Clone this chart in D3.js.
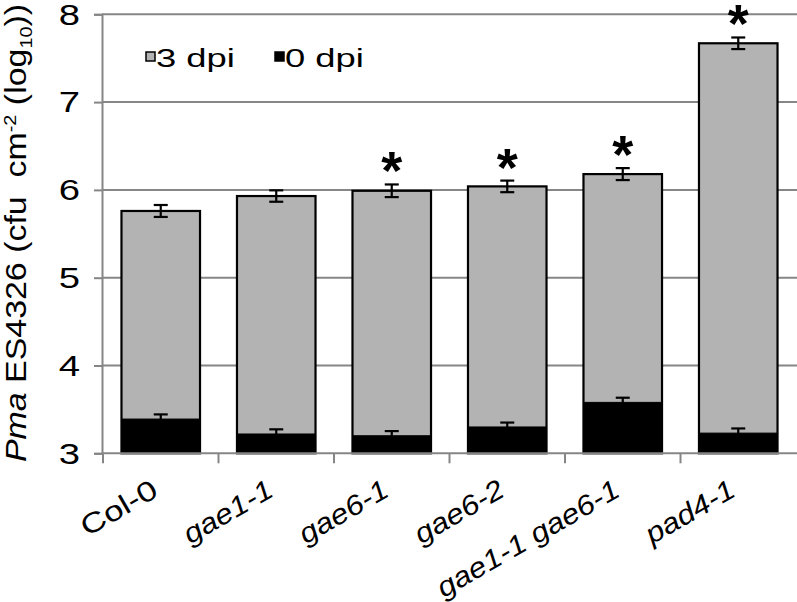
<!DOCTYPE html>
<html><head><meta charset="utf-8">
<script src="https://cdn.jsdelivr.net/npm/d3@7"></script>
<style>body{margin:0;background:#fff;} svg{display:block;font-family:Arial,"Liberation Sans",sans-serif;}</style>
</head><body>
<svg id="chart" width="797" height="602"></svg>
<script>
const categories = ["Col-0","gae1-1","gae6-1","gae6-2","gae1-1 gae6-1","pad4-1"];
const italicLabel = [false,true,true,true,true,true];
const dpi3 = [5.76,5.93,5.99,6.04,6.18,7.67];
const dpi3Err = [0.068,0.065,0.072,0.066,0.068,0.066];
const dpi0 = [3.39,3.22,3.20,3.30,3.58,3.23];
const dpi0Err = [0.053,0.053,0.053,0.05,0.053,0.053];
const significant = [false,false,true,true,true,true];
const yTicks = [3,4,5,6,7,8];
const seriesNames = ["3 dpi","0 dpi"];

const svg = d3.select("#chart");
const grid = "#868686";
const FONT = "Arial, 'Liberation Sans', sans-serif";
const y = d3.scaleLinear().domain([3,8]).range([453.3,14.3]);
const x = d3.scaleBand().domain(categories).range([103,796]).paddingInner(0.32).paddingOuter(0.16);
const step = x.step(), bw = x.bandwidth();

// gridlines
svg.append("g").selectAll("line").data(yTicks.filter(t=>t>3)).join("line")
  .attr("x1",102).attr("x2",797).attr("y1",d=>y(d)).attr("y2",d=>y(d))
  .attr("stroke",grid).attr("stroke-width",2);

// y axis
const yAxis = svg.append("g").attr("transform","translate(102,0)")
  .call(d3.axisLeft(y).tickValues(yTicks).tickSize(8).tickPadding(14).tickFormat(d3.format("d")));
yAxis.select(".domain").attr("stroke",grid).attr("stroke-width",2);
yAxis.selectAll(".tick line").attr("stroke",grid).attr("stroke-width",2);
yAxis.selectAll(".tick text").attr("font-size",29).attr("fill","#000").attr("font-family",FONT)
  .attr("x",0).attr("dy","0.34em").attr("transform","translate(-22,0) scale(1.32,1)");

// bars 3 dpi
const gb = svg.append("g");
categories.forEach((c,i)=>{
  gb.append("rect").attr("x",x(c)).attr("width",bw).attr("y",y(dpi3[i])).attr("height",y(3)-y(dpi3[i]))
    .attr("fill","#b3b3b3").attr("stroke","#000").attr("stroke-width",2.2);
});
// error bars 3 dpi
categories.forEach((c,i)=>{
  const cx = x(c)+bw/2;
  const g = gb.append("g").attr("stroke","#000").attr("stroke-width",2.2);
  g.append("line").attr("x1",cx).attr("x2",cx).attr("y1",y(dpi3[i]+dpi3Err[i])).attr("y2",y(dpi3[i]-dpi3Err[i]));
  g.append("line").attr("x1",cx-7).attr("x2",cx+7).attr("y1",y(dpi3[i]+dpi3Err[i])).attr("y2",y(dpi3[i]+dpi3Err[i]));
  g.append("line").attr("x1",cx-7).attr("x2",cx+7).attr("y1",y(dpi3[i]-dpi3Err[i])).attr("y2",y(dpi3[i]-dpi3Err[i]));
});
// bars 0 dpi
categories.forEach((c,i)=>{
  gb.append("rect").attr("x",x(c)).attr("width",bw).attr("y",y(dpi0[i])).attr("height",y(3)-y(dpi0[i]))
    .attr("fill","#000").attr("stroke","#000").attr("stroke-width",1);
  const cx = x(c)+bw/2;
  const g = gb.append("g").attr("stroke","#000").attr("stroke-width",2.2);
  g.append("line").attr("x1",cx).attr("x2",cx).attr("y1",y(dpi0[i]+dpi0Err[i])).attr("y2",y(dpi0[i]-dpi0Err[i]));
  g.append("line").attr("x1",cx-7).attr("x2",cx+7).attr("y1",y(dpi0[i]+dpi0Err[i])).attr("y2",y(dpi0[i]+dpi0Err[i]));
});

// significance stars
categories.forEach((c,i)=>{
  if(!significant[i]) return;
  svg.append("text").attr("x",x(c)+bw/2).attr("y",y(dpi3[i]+dpi3Err[i])+5)
    .attr("text-anchor","middle").attr("font-size",54).attr("font-weight","bold").attr("font-family",FONT).text("*");
});

// x axis
svg.append("line").attr("x1",102).attr("x2",797).attr("y1",y(3)).attr("y2",y(3)).attr("stroke",grid).attr("stroke-width",2);
const bounds = categories.map(c=>x(c)-step*x.paddingInner()/2);
svg.append("g").selectAll("line").data(bounds).join("line")
  .attr("x1",d=>d).attr("x2",d=>d).attr("y1",y(3)).attr("y2",y(3)+10).attr("stroke",grid).attr("stroke-width",2);

categories.forEach((c,i)=>{
  const cx = x(c)+bw/2;
  svg.append("text").attr("text-anchor","end").attr("font-size",28).attr("font-family",FONT)
    .attr("font-style",italicLabel[i]?"italic":"normal")
    .attr("transform",`translate(${cx-1},${y(3)+42}) rotate(-30) scale(${italicLabel[i]?1.13:1.25},1)`).text(c);
});

// y label
const yl = svg.append("text").attr("text-anchor","middle").attr("font-size",29).attr("font-family",FONT)
  .attr("transform","translate(26,233) rotate(-90) scale(1.17,1)");
yl.append("tspan").attr("font-style","italic").text("Pma");
yl.append("tspan").text(" ES4326 (cfu\u00a0\u00a0cm");
yl.append("tspan").attr("font-size",17).attr("dy",-10).text("-2");
yl.append("tspan").attr("dy",10).text(" (log");
yl.append("tspan").attr("font-size",17).attr("dy",6).text("10");
yl.append("tspan").attr("dy",-6).text("))");

// legend
const leg = svg.append("g");
[[146,"#b3b3b3",seriesNames[0]],[275,"#000",seriesNames[1]]].forEach(([lx,col,name])=>{
  leg.append("rect").attr("x",lx).attr("y",52).attr("width",9).attr("height",9).attr("fill",col).attr("stroke","#000").attr("stroke-width",1.5);
  leg.append("text").attr("transform",`translate(${lx+10},67) scale(1.4,1)`).attr("font-size",26).attr("font-family",FONT).text(name);
});
</script>
</body></html>
